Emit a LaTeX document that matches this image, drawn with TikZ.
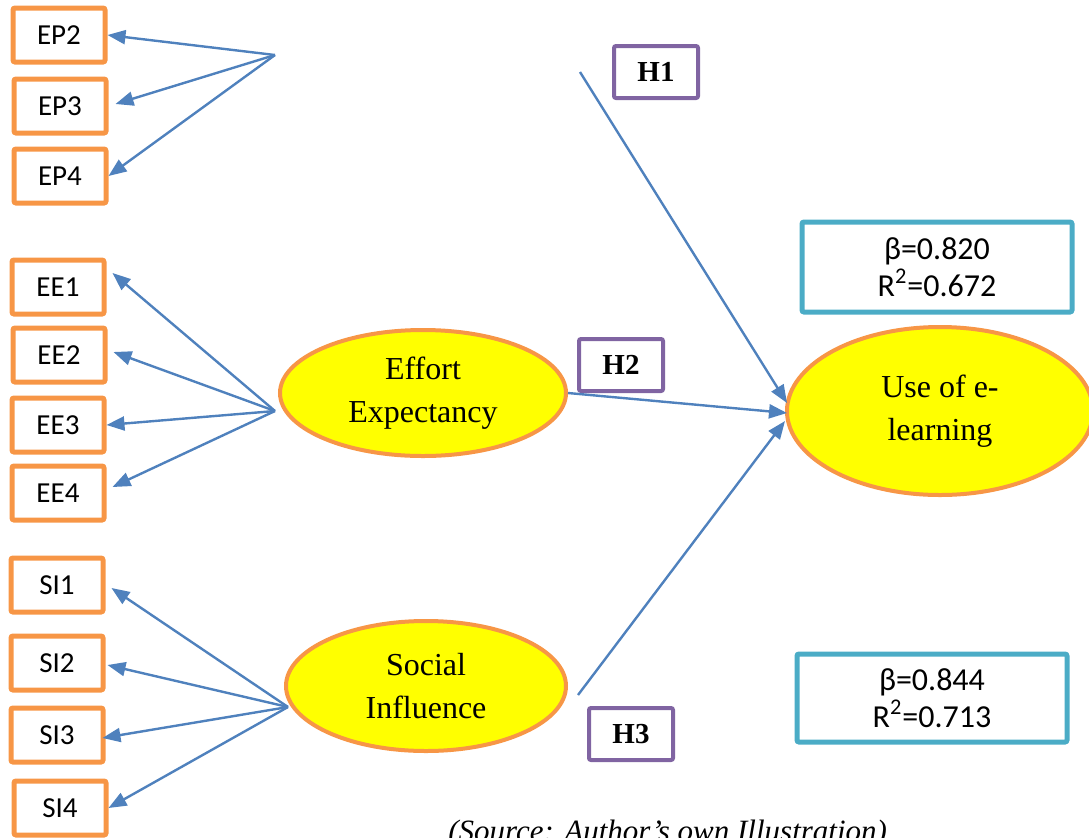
\documentclass[tikz,border=0pt]{standalone}
\usepackage{fontspec}
\setmainfont{Liberation Serif}
\newfontfamily\calibri{Carlito}
\usetikzlibrary{positioning,arrows.meta,shapes.geometric}
\definecolor{itemorange}{RGB}{247,150,70}
\definecolor{hyppurple}{RGB}{128,100,162}
\definecolor{fitteal}{RGB}{75,172,198}
\definecolor{loadblue}{RGB}{79,129,189}
\definecolor{latentyellow}{RGB}{255,255,0}
\tikzset{
  item/.style={draw=itemorange,line width=2.5pt,rounded corners=1pt,minimum width=46pt,minimum height=27pt,inner sep=0pt,font=\calibri\fontsize{14.5}{16}\selectfont},
  construct/.style={ellipse,draw=itemorange,line width=2pt,fill=latentyellow,inner sep=0pt,align=center,font=\fontsize{16}{21.5}\selectfont},
  hyp/.style={draw=hyppurple,line width=2pt,rounded corners=1pt,minimum width=42pt,minimum height=26pt,inner sep=0pt,font=\bfseries\fontsize{14.5}{16}\selectfont},
  fitbox/.style={draw=fitteal,line width=2.5pt,rounded corners=1pt,minimum width=135pt,minimum height=45pt,inner sep=0pt,align=center,font=\calibri\fontsize{16}{18.5}\selectfont},
  load/.style={loadblue,line width=1.2pt,-{Triangle[length=9pt,width=7pt]}}
}
\begin{document}
\begin{tikzpicture}[x=0.5pt,y=-0.5pt]
\useasboundingbox (0,0) rectangle (1089,837);
% indicator boxes
\node[item] (ep2) at (59,35) {EP2};
\node[item] (ep3) at (60,106) {EP3};
\node[item] (ep4) at (60,176) {EP4};
\node[item] (ee1) at (58,287) {EE1};
\node[item] (ee2) at (59,355) {EE2};
\node[item] (ee3) at (58,425) {EE3};
\node[item] (ee4) at (58,493) {EE4};
\node[item] (si1) at (57,585) {SI1};
\node[item] (si2) at (57,663) {SI2};
\node[item] (si3) at (57,735) {SI3};
\node[item] (si4) at (60,808) {SI4};
% latent constructs
\node[construct,minimum width=143pt,minimum height=63pt] (ee) at (423,393) {Effort\\Expectancy};
\node[construct,minimum width=140pt,minimum height=65pt] (si) at (426,686) {Social\\Influence};
\node[construct,minimum width=153pt,minimum height=84pt] (use) at (940,411) {Use of e-\\learning};
% hypotheses
\node[hyp] (h1) at (656,72) {H1};
\node[hyp] (h2) at (621,365) {H2};
\node[hyp] (h3) at (631,734) {H3};
% fit values
\node[fitbox] (fit1) at (937,267) {β=0.820\\R\textsuperscript{2}=0.672};
\node[fitbox,minimum height=44pt] (fit2) at (932,698) {β=0.844\\R\textsuperscript{2}=0.713};
% loadings
\coordinate (ephub) at (275,55);
\coordinate (eehub) at (275,411);
\coordinate (sihub) at (288,707);
\draw[load] (ephub) -- (ep2.east);
\draw[load] (ephub) -- ([shift={(7,-2)}]ep3.east);
\draw[load] (ephub) -- (ep4.east);
\draw[load] (eehub) -- ([shift={(6,-14)}]ee1.east);
\draw[load] (eehub) -- ([shift={(6,-3)}]ee2.east);
\draw[load] (eehub) -- (ee3.east);
\draw[load] (eehub) -- ([shift={(6,-6)}]ee4.east);
\draw[load] (sihub) -- ([shift={(6,3)}]si1.east);
\draw[load] (sihub) -- ([shift={(2,2)}]si2.east);
\draw[load] (sihub) -- ([shift={(-3,3)}]si3.east);
\draw[load] (sihub) -- (si4.east);
% paths
\coordinate (h1start) at (580,72);
\coordinate (h3start) at (578,695);
\draw[load] (h1start) -- ([shift={(2,-8)}]use.west);
\draw[load] (ee.east) -- ([shift={(2,2)}]use.west);
\draw[load] (h3start) -- ([shift={(0,10)}]use.west);
% caption
\node[anchor=base west,font=\itshape\fontsize{15.5}{18}\selectfont,inner sep=0pt] (src) at (448,841) {(Source: Author’s own Illustration)};
\end{tikzpicture}
\end{document}
